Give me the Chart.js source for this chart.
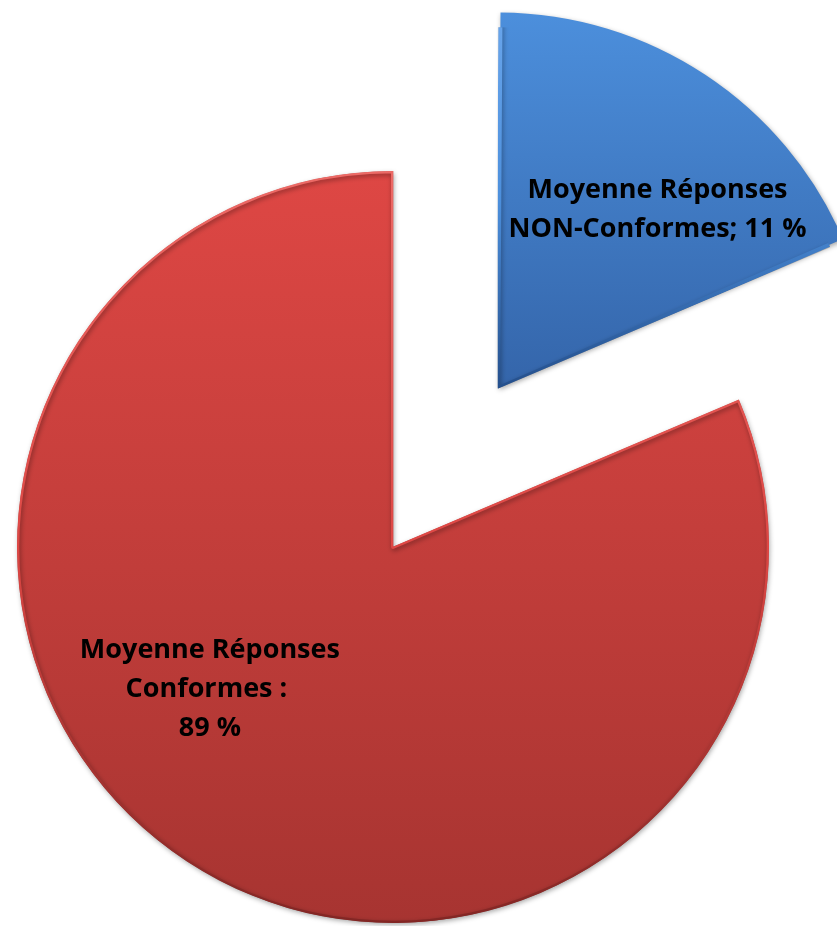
<!DOCTYPE html>
<html><head><meta charset="utf-8">
<script src="https://cdn.jsdelivr.net/npm/chart.js@4.4.1/dist/chart.umd.min.js"></script>
<style>html,body{margin:0;padding:0;background:#fff}#wrap{width:837px;height:926px}</style>
</head><body><div id="wrap"><canvas id="c" width="837" height="926"></canvas></div>
<script>
// ---- data ----
const categories = ['Moyenne Réponses NON-Conformes', 'Moyenne Réponses Conformes'];
const labelPercents = [11, 89];          // percentages printed in the labels
const sliceShares = [18.6, 81.4];        // angular shares as drawn in the picture
const labelLines = [
  ['Moyenne Réponses', 'NON-Conformes; ' + labelPercents[0] + ' %'],
  ['Moyenne Réponses', 'Conformes : ', labelPercents[1] + ' %']
];

// ---- style ----
const RADIUS = 376;
const OFFSETS = [762, 0];
const topColors = ['#4c8fdc', '#de4744'];
const botColors = ['#3465aa', '#a73431'];
const borderTop = ['#6aa6ec', '#ec6a66'];
const borderBot = ['#244f8c', '#822624'];
const labelAnchor = [[0.424, -0.453], [-0.487, 0.400]];
const LINE_H = 39;

function grad(c) {
  const chart = c.chart, area = chart.chartArea;
  if (!area) return null;
  const cy = (area.top + area.bottom) / 2;
  const i = c.dataIndex;
  const y0 = cy - RADIUS, y1 = i === 0 ? cy : cy + RADIUS;
  return chart.ctx.createLinearGradient(0, y0, 0, y1);
}
function fillGrad(c) {
  const g = grad(c);
  if (!g) return topColors[c.dataIndex] || topColors[1];
  g.addColorStop(0, topColors[c.dataIndex]);
  g.addColorStop(1, botColors[c.dataIndex]);
  return g;
}
function borderGrad(c) {
  const g = grad(c);
  if (!g) return borderTop[c.dataIndex] || borderTop[1];
  g.addColorStop(0, borderTop[c.dataIndex]);
  g.addColorStop(0.5, topColors[c.dataIndex]);
  g.addColorStop(1, borderBot[c.dataIndex]);
  return g;
}

// Chart.js enlarges an exploded arc's radius by offset/4*(1-sin(circ)); undo that so both slices share RADIUS
const radiusFixPlugin = {
  id: 'radiusFix',
  beforeDatasetsDraw(chart) {
    const meta = chart.getDatasetMeta(0);
    meta.data.forEach(el => {
      const off = (el.options.offset || 0) / 4;
      const fix = 1 - Math.sin(Math.min(Math.PI, el.circumference || 0));
      el._origR = el.outerRadius;
      el.outerRadius = el.outerRadius - off * fix;
    });
    const ctx = chart.ctx;
    ctx.save();
    ctx.shadowColor = 'rgba(0,0,0,0.35)';
    ctx.shadowBlur = 5;
    ctx.shadowOffsetX = 1;
    ctx.shadowOffsetY = 2;
  },
  afterDatasetsDraw(chart) {
    chart.ctx.restore();
    chart.getDatasetMeta(0).data.forEach(el => { el.outerRadius = el._origR; });
  }
};

const labelPlugin = {
  id: 'sliceLabels',
  afterDraw(chart) {
    const ctx = chart.ctx;
    const meta = chart.getDatasetMeta(0);
    ctx.save();
    ctx.fillStyle = '#000';
    ctx.font = 'bold 27px "Open Sans", Lato, sans-serif';
    ctx.textAlign = 'center';
    ctx.textBaseline = 'alphabetic';
    meta.data.forEach((el, i) => {
      const t = (el.options.offset || 0) / 4;
      const half = (el.startAngle + el.endAngle) / 2;
      const vx = el.x + Math.cos(half) * t;
      const vy = el.y + Math.sin(half) * t;
      const ax = vx + el.outerRadius * labelAnchor[i][0];
      const ay = vy + el.outerRadius * labelAnchor[i][1];
      const lines = labelLines[i];
      lines.forEach((ln, k) => {
        ctx.fillText(ln, ax, ay + (k - (lines.length - 1) / 2) * LINE_H);
      });
    });
    ctx.restore();
  }
};

new Chart(document.getElementById('c'), {
  type: 'pie',
  data: {
    labels: categories,
    datasets: [{
      data: sliceShares,
      backgroundColor: fillGrad,
      borderColor: borderGrad,
      borderWidth: 2,
      borderAlign: 'inner',
      offset: OFFSETS,
      radius: RADIUS,
      clip: false
    }]
  },
  options: {
    responsive: false,
    animation: false,
    cutout: '0%',
    layout: { padding: { left: 0, right: 51, top: 168, bottom: 0 } },
    plugins: { legend: { display: false }, tooltip: { enabled: false } }
  },
  plugins: [radiusFixPlugin, labelPlugin]
});
</script>
</body></html>
